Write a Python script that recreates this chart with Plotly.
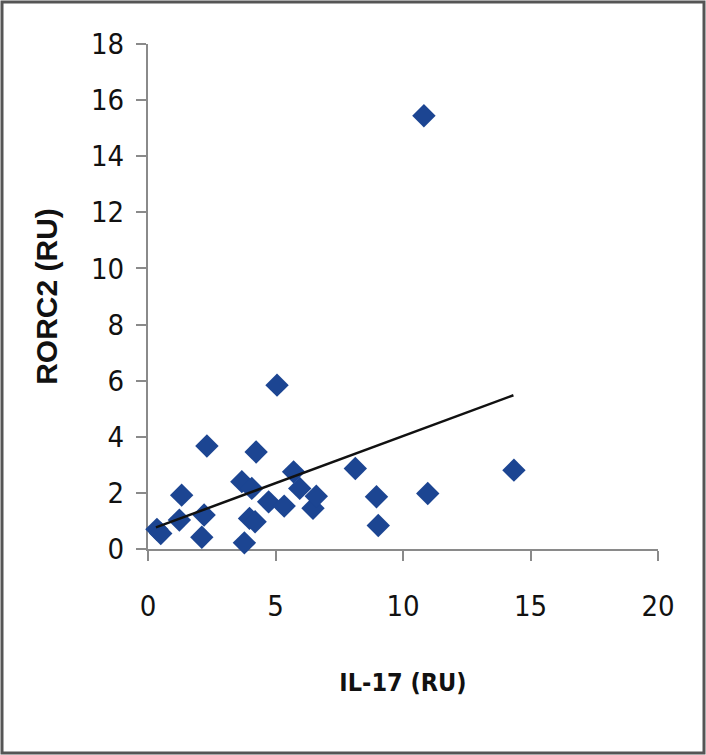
import plotly.graph_objects as go

# IL-17 vs RORC2 expression (relative units)
il17 = [0.35, 0.5, 1.23, 1.32, 2.11, 2.2, 2.31, 3.68, 3.78, 3.98, 4.07, 4.2,
        4.24, 4.73, 5.06, 5.34, 5.71, 5.95, 6.47, 6.6, 8.13, 8.96, 9.03,
        10.82, 10.97, 14.35]
rorc2 = [0.7, 0.55, 1.03, 1.92, 0.42, 1.21, 3.67, 2.4, 0.22, 1.09, 2.16, 0.97,
         3.46, 1.68, 5.84, 1.53, 2.75, 2.16, 1.45, 1.88, 2.87, 1.86, 0.84,
         15.44, 1.98, 2.81]

# linear trend line end points
trend_x = [0.31, 14.33]
trend_y = [0.77, 5.48]

x_ticks = [0, 5, 10, 15, 20]
y_ticks = [0, 2, 4, 6, 8, 10, 12, 14, 16, 18]

W, H = 706, 755
M = dict(l=148, r=48, t=44, b=206)

AXIS_GREY = "#8a8a8a"
NARROW = "DejaVu Sans Condensed, sans-serif"
tick_font = dict(family=NARROW, size=29, color="#111111")

fig = go.Figure()

fig.add_trace(go.Scatter(
    x=il17, y=rorc2,
    mode="markers",
    marker=dict(symbol="diamond", size=18, color="#1c4592", line=dict(width=0)),
    cliponaxis=False,
    hoverinfo="skip",
))

fig.add_trace(go.Scatter(
    x=trend_x, y=trend_y,
    mode="lines",
    line=dict(color="#111111", width=2.5),
    cliponaxis=False,
    hoverinfo="skip",
))

# outer frame around the whole picture
pw = W - M["l"] - M["r"]
ph = H - M["t"] - M["b"]
fig.add_shape(
    type="rect", xref="paper", yref="paper",
    x0=-(M["l"] - 2) / pw, x1=1 + (M["r"] - 2) / pw,
    y0=-(M["b"] - 2) / ph, y1=1 + (M["t"] - 2) / ph,
    line=dict(color="#555555", width=3),
    layer="below",
)

fig.update_layout(
    width=W, height=H,
    margin=M,
    paper_bgcolor="white",
    plot_bgcolor="white",
    showlegend=False,
    xaxis=dict(
        range=[0, 20],
        tickvals=x_ticks,
        ticks="outside", ticklen=10, tickwidth=2, tickcolor=AXIS_GREY,
        showline=True, linecolor=AXIS_GREY, linewidth=2,
        showgrid=False, zeroline=False,
        tickfont=tick_font,
        ticklabelstandoff=20,
        layer="below traces",
        title=dict(text="<b>IL-17 (RU)</b>", standoff=52,
                   font=dict(family=NARROW, size=25, color="#111111")),
    ),
    yaxis=dict(
        range=[0, 18],
        tickvals=y_ticks,
        ticks="outside", ticklen=10, tickwidth=2, tickcolor=AXIS_GREY,
        showline=True, linecolor=AXIS_GREY, linewidth=2,
        showgrid=False, zeroline=False,
        tickfont=tick_font,
        ticklabelstandoff=6,
        layer="below traces",
        title=dict(text="<b>RORC2 (RU)</b>", standoff=24,
                   font=dict(family="Liberation Sans, Arial, sans-serif",
                             size=30, color="#111111")),
    ),
)

# drop the default page margin so the figure sits at the window corner
fig.write_html("out.html", config=dict(displayModeBar=False),
               post_script="document.body.style.margin='0';")
